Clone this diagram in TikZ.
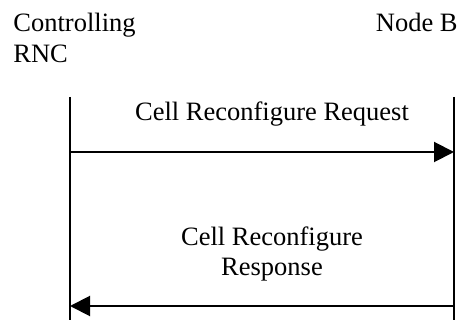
\documentclass[tikz,border=0pt]{standalone}
\usepackage{fontspec}
\setmainfont{Liberation Serif}
\usetikzlibrary{arrows.meta}
\begin{document}
\begin{tikzpicture}[x=0.5pt,y=-0.5pt,
  lbl/.style={inner sep=0pt,font=\fontsize{13.25}{15.5}\selectfont},
  life/.style={line width=1pt},
  msg/.style={line width=1pt,-{Triangle[length=10pt,width=10pt]}}]
\useasboundingbox (0,0) rectangle (461,320);
\node[lbl,anchor=base west] (rnc1) at (13,32) {Controlling};
\node[lbl,anchor=base west] (rnc2) at (13,63) {RNC};
\node[lbl,anchor=base east] (nodeb) at (458,32) {Node B};
\coordinate (lt) at (70,97);
\coordinate (lb) at (70,320);
\coordinate (rt) at (454,97);
\coordinate (rb) at (454,320);
\draw[life] (lt) -- (lb);
\draw[life] (rt) -- (rb);
\coordinate (a1s) at (70,152);
\coordinate (a1e) at (454,152);
\coordinate (a2s) at (454,306);
\coordinate (a2e) at (70,306);
\draw[msg] (a1s) -- (a1e);
\draw[msg] (a2s) -- (a2e);
\node[lbl,anchor=base] (req) at (272,121) {Cell Reconfigure Request};
\node[lbl,anchor=base] (resp1) at (272,246) {Cell Reconfigure};
\node[lbl,anchor=base] (resp2) at (272,276) {Response};
\end{tikzpicture}
\end{document}
